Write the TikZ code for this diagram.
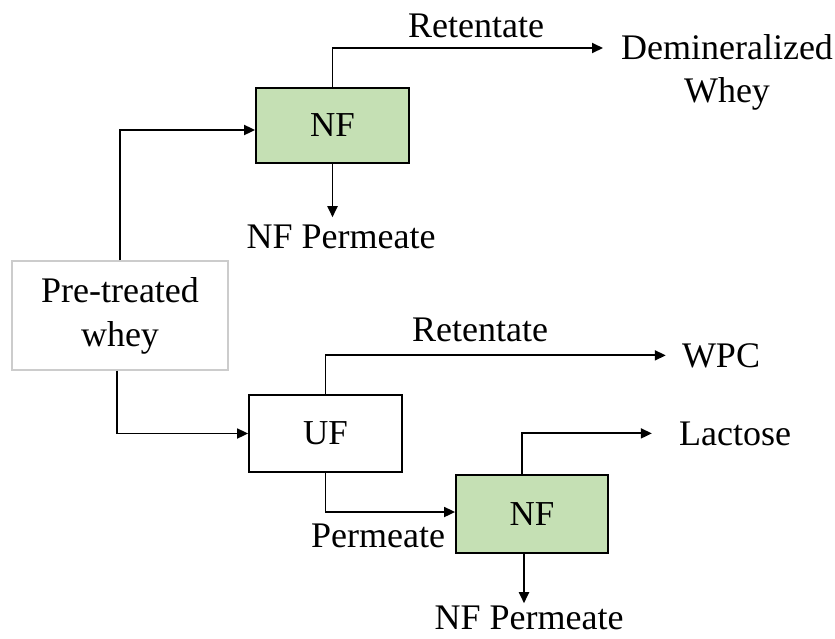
\documentclass[tikz,border=0pt]{standalone}
\usepackage{fontspec}
\setmainfont{Liberation Serif}
\usetikzlibrary{arrows.meta}
\definecolor{nfgreen}{HTML}{C5E0B4}
\definecolor{paleframe}{HTML}{CCCCCC}
\begin{document}
\begin{tikzpicture}[x=1pt,y=-1pt,
  every node/.style={font=\fontsize{36}{43}\selectfont},
  unit/.style={draw=black,line width=1.8pt,inner sep=0pt,font=\fontsize{35}{42}\selectfont},
  membrane/.style={unit,fill=nfgreen},
  feedbox/.style={draw=paleframe,line width=1.4pt,inner sep=0pt,align=center,
    minimum width=216pt,minimum height=109pt,font=\fontsize{36}{44}\selectfont},
  lbl/.style={inner sep=0pt},
  flow/.style={line width=1.8pt,-{Triangle[length=11pt,width=10pt]}}]
\useasboundingbox (0,0) rectangle (835,638);

% process units
\node[feedbox] (pre) at (120,315.5) {Pre-treated\\whey};
\node[membrane,minimum width=153pt,minimum height=75pt] (nf1) at (332.5,125.5) {NF};
\node[unit,minimum width=153pt,minimum height=77pt] (uf) at (325.5,433.5) {UF};
\node[membrane,minimum width=152pt,minimum height=78pt] (nf2) at (532,514) {NF};

% stream labels and products
\node[lbl,anchor=base] (ret1) at (476,37) {Retentate};
\node[lbl,align=center] (dem) at (727,72.6) {Demineralized\\Whey};
\node[lbl,anchor=base] (nfp1) at (341,248) {NF Permeate};
\node[lbl,anchor=base] (ret2) at (480,341) {Retentate};
\node[lbl,anchor=base] (wpc) at (721,367) {WPC};
\node[lbl,anchor=base] (lac) at (735,445) {Lactose};
\node[lbl,anchor=base] (perm) at (378,547) {Permeate};
\node[lbl,anchor=base] (nfp2) at (529,629) {NF Permeate};

\coordinate (demin) at (603,48);

% flows
\draw[flow] (pre.north) |- ([yshift=-4.5pt]nf1.west);
\draw[flow] (nf1.north) |- (demin);
\draw[flow] (nf1.south) -- ([yshift=7pt]nf1.south |- nfp1.north);
\draw[flow] ([xshift=-3pt]pre.south) |- (uf.west);
\draw[flow] (uf.north) |- ([xshift=-16pt]wpc.west);
\draw[flow] (uf.south) |- ([yshift=2pt]nf2.west);
\draw[flow] ([xshift=-10pt]nf2.north) |- ([xshift=-27pt]lac.west);
\draw[flow] ([xshift=-8pt]nf2.south) -- ([xshift=-8pt,yshift=2pt]nf2.south |- nfp2.north);
\end{tikzpicture}
\end{document}
